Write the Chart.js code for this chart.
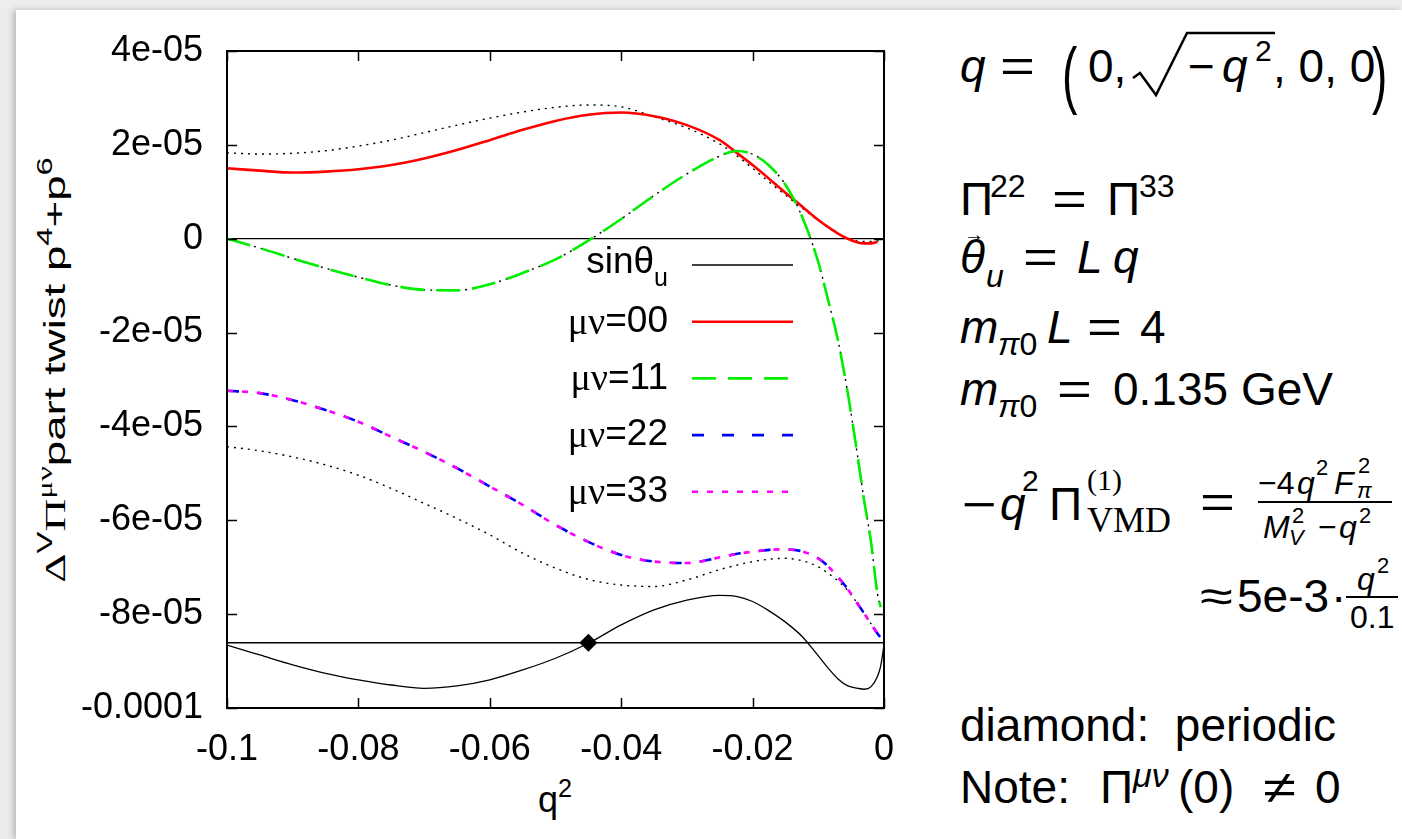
<!DOCTYPE html>
<html>
<head>
<meta charset="utf-8">
<script src="https://cdn.jsdelivr.net/npm/chart.js@4/dist/chart.umd.min.js"></script>
<style>
html,body{margin:0;padding:0;width:1402px;height:839px;overflow:hidden;background:#ededed;}
#panel{position:absolute;left:16px;top:10px;width:1386px;height:829px;background:#fff;box-shadow:-3px 0 6px rgba(0,0,0,0.22);}
#chartBox{position:absolute;left:0;top:0;width:900px;height:839px;z-index:2;}
.a{position:absolute;font-family:"Liberation Sans",Arial,sans-serif;color:#000;white-space:nowrap;line-height:1;font-size:46px;}
.i{font-style:italic;}
.s{font-family:"Liberation Serif","Times New Roman",serif;}
.eq{transform:scaleX(1.3);transform-origin:left center;}
.bar{position:absolute;background:#000;height:2px;}
#ytitle{position:absolute;left:55px;top:370px;transform:translate(-50%,-50%) rotate(-90deg) scaleX(1.52);font-family:"Liberation Sans",Arial,sans-serif;font-size:30px;white-space:nowrap;line-height:1;color:#000;}
#ytitle .g{font-family:"Liberation Serif",serif;}
#ytitle sup{font-size:0.72em;vertical-align:0.6em;line-height:0;}
#xtitle{position:absolute;left:555px;top:782px;transform:translateX(-50%);font-family:"Liberation Sans",Arial,sans-serif;font-size:36px;white-space:nowrap;line-height:1;color:#000;}
#xtitle sup{font-size:0.7em;vertical-align:0.6em;line-height:0;}
</style>
</head>
<body>
<div id="panel"></div>
<div id="chartBox"><canvas id="c"></canvas></div>

<div id="ytitle"><span class="g">Δ</span><sup>V</sup><span class="g">Π</span><sup class="g">μν</sup>part twist p<sup>4</sup>+p<sup>6</sup></div>
<div id="xtitle">q<sup>2</sup></div>

<!-- right-hand annotations -->
<div class="a i" style="left:960px;top:43px">q</div>
<div class="a eq" style="left:1000px;top:43px">=</div>
<div class="a" style="left:1062px;top:43px;transform:translateY(8px) scaleY(1.6)">(</div>
<div class="a" style="left:1088px;top:43px">0,</div>
<svg style="position:absolute;left:0;top:0;width:1402px;height:839px;pointer-events:none;z-index:3" viewBox="0 0 1402 839"><path d="M1133,78 L1140,73 L1156,95 L1187,33 L1275,33" fill="none" stroke="#000" stroke-width="2.5"/></svg>
<div class="a" style="left:1188px;top:43px">−</div>
<div class="a i" style="left:1222px;top:43px">q</div>
<div class="a" style="left:1255px;top:36px;font-size:30px">2</div>
<div class="a" style="left:1273px;top:43px">, 0, 0</div>
<div class="a" style="left:1372px;top:43px;transform:translateY(8px) scaleY(1.6)">)</div>

<div class="a" style="left:960px;top:176px">Π</div>
<div class="a" style="left:990px;top:170px;font-size:32px">22</div>
<div class="a eq" style="left:1052px;top:176px">=</div>
<div class="a" style="left:1107px;top:176px">Π</div>
<div class="a" style="left:1139px;top:170px;font-size:32px">33</div>

<div class="a i" style="left:960px;top:234px">θ</div>
<div class="a" style="left:964px;top:224px;font-size:20px">→</div>
<div class="a i" style="left:986px;top:260px;font-size:32px">u</div>
<div class="a eq" style="left:1023px;top:234px">=</div>
<div class="a i" style="left:1077px;top:234px">L</div>
<div class="a i" style="left:1113px;top:234px">q</div>

<div class="a i" style="left:960px;top:304px">m</div>
<div class="a" style="left:998px;top:328px;font-size:32px"><span class="i">π</span>0</div>
<div class="a i" style="left:1047px;top:304px">L</div>
<div class="a eq" style="left:1087px;top:304px">=</div>
<div class="a" style="left:1140px;top:304px">4</div>

<div class="a i" style="left:960px;top:366px">m</div>
<div class="a" style="left:998px;top:390px;font-size:32px"><span class="i">π</span>0</div>
<div class="a eq" style="left:1057px;top:366px">=</div>
<div class="a" style="left:1113px;top:366px">0.135 GeV</div>

<div class="a eq" style="left:962px;top:481px">−</div>
<div class="a i" style="left:1000px;top:481px">q</div>
<div class="a" style="left:1022px;top:466px;font-size:30px">2</div>
<div class="a" style="left:1049px;top:481px">Π</div>
<div class="a s" style="left:1087px;top:465px;font-size:30px">(1)</div>
<div class="a s" style="left:1087px;top:502px;font-size:36px">VMD</div>
<div class="a eq" style="left:1200px;top:479px">=</div>
<div class="a" style="left:1258px;top:467px;font-size:32px">−4</div>
<div class="a i" style="left:1297px;top:467px;font-size:32px">q</div>
<div class="a" style="left:1316px;top:457px;font-size:22px">2</div>
<div class="a i" style="left:1334px;top:467px;font-size:32px">F</div>
<div class="a" style="left:1358px;top:455px;font-size:22px">2</div>
<div class="a i" style="left:1357px;top:480px;font-size:22px">π</div>
<div class="bar" style="left:1258px;top:501px;width:134px"></div>
<div class="a i" style="left:1263px;top:511px;font-size:32px">M</div>
<div class="a" style="left:1292px;top:505px;font-size:22px">2</div>
<div class="a i" style="left:1289px;top:527px;font-size:22px">V</div>
<div class="a" style="left:1318px;top:511px;font-size:32px">−</div>
<div class="a i" style="left:1339px;top:511px;font-size:32px">q</div>
<div class="a" style="left:1359px;top:505px;font-size:22px">2</div>

<div class="a eq" style="left:1200px;top:573px">≈</div>
<div class="a" style="left:1237px;top:573px">5e-3</div>
<div class="a" style="left:1331px;top:573px">·</div>
<div class="bar" style="left:1346px;top:596px;width:52px"></div>
<div class="a i" style="left:1357px;top:563px;font-size:32px">q</div>
<div class="a" style="left:1377px;top:555px;font-size:22px">2</div>
<div class="a" style="left:1350px;top:601px;font-size:32px">0.1</div>

<div class="a" style="left:960px;top:702px">diamond:&nbsp; periodic</div>
<div class="a" style="left:960px;top:764px">Note:</div>
<div class="a" style="left:1100px;top:764px">Π</div>
<div class="a i" style="left:1133px;top:758px;font-size:34px">μν</div>
<div class="a" style="left:1178px;top:764px">(0)</div>
<div class="a eq" style="left:1263px;top:764px">≠</div>
<div class="a" style="left:1315px;top:764px">0</div>

<script>
// ---------------- data (y values in units of 1e-6) ----------------
const qValues = [-0.1, -0.095, -0.09, -0.085, -0.08, -0.075, -0.07, -0.065, -0.06, -0.055,
  -0.05, -0.045, -0.04, -0.035, -0.03, -0.025, -0.0225, -0.02, -0.0175, -0.015,
  -0.0125, -0.01, -0.0085, -0.007, -0.0055, -0.004, -0.003, -0.002, -0.001, -0.0005, 0];

const sinThetaU = [-86.6, -88.7, -90.8, -92.6, -94.0, -95.1, -95.8, -95.3, -94.0, -91.9,
  -89.4, -86.2, -82.3, -79.1, -77.0, -76.0, -76.2, -77.3, -79.3, -81.7,
  -84.7, -88.9, -91.5, -93.8, -95.3, -95.8, -96.0, -95.5, -93.3, -91.0, -86.6];

const mn00 = [15.0, 14.5, 14.1, 14.3, 14.8, 15.7, 17.1, 18.9, 21.0, 23.2,
  25.1, 26.4, 26.9, 26.1, 24.2, 21.0, 18.4, 15.7, 12.8, 9.8,
  6.9, 4.0, 2.5, 1.1, 0.0, -0.8, -1.0, -1.0, -0.7, null, null];

const mn11 = [0.0, -2.0, -4.2, -6.3, -8.2, -9.9, -10.9, -11.0, -9.7, -7.3,
  -4.4, -0.4, 4.2, 9.2, 13.8, 17.6, 18.7, 18.0, 15.6, 11.5,
  4.8, -5.0, -13.1, -21.7, -33.0, -46.5, -56.0, -64.4, -75.6, -78.5, null];

const mn22 = [-32.4, -32.9, -34.4, -36.5, -39.0, -42.2, -45.4, -48.9, -52.8, -56.7,
  -61.0, -64.6, -67.4, -68.8, -69.1, -67.9, -67.2, -66.7, -66.3, -66.2,
  -66.6, -68.1, -69.8, -72.1, -74.7, -77.8, -79.9, -82.0, -84.1, -85.0, null];

const mn33 = [-32.4, -32.9, -34.4, -36.5, -39.0, -42.2, -45.4, -48.9, -52.8, -56.7,
  -61.0, -64.6, -67.4, -68.8, -69.1, -67.9, -67.2, -66.7, -66.3, -66.2,
  -66.6, -68.1, -69.8, -72.1, -74.7, -77.8, -79.9, -82.0, -84.1, -85.0, null];

const dottedUpper = [18.3, 18.05, 18.2, 18.75, 19.75, 21.0, 22.6, 24.2, 25.7, 27.0,
  28.0, 28.5, 28.1, 26.0, 23.6, 20.2, 17.8, 15.0, 12.1, 9.3,
  6.6, 3.9, 2.4, 1.0, 0.0, -0.5, -0.6, -0.6, -0.5, -0.4, -0.3];

const dottedLower = [-44.3, -45.2, -46.5, -48.2, -50.4, -53.2, -56.4, -59.6, -63.1, -67.0,
  -70.2, -72.6, -73.8, -74.1, -72.7, -70.5, -69.6, -68.8, -68.3, -68.1,
  -68.6, -69.9, -71.3, -72.9, -75.0, -77.8, -79.9, -82.0, -84.1, -85.0, null];

const dotted11 = [0.0, -2.0, -4.2, -6.3, -8.2, -9.9, -10.9, -11.0, -9.7, -7.3,
  -4.4, -0.4, 4.2, 9.2, 13.8, 17.6, 18.7, 18.0, 15.6, 11.5,
  4.8, -5.0, -13.1, -21.7, -33.0, -46.5, -56.0, -64.4, -75.6, -78.5, null];

const sinZeroQ = [-0.1, 0];
const sinZeroLevel = [-86.1, -86.1];
const diamondQ = [-0.045];
const diamondV = [-86.1];

const xTickValues = [-0.1, -0.08, -0.06, -0.04, -0.02, 0];
const xTickLabels = ['-0.1', '-0.08', '-0.06', '-0.04', '-0.02', '0'];
const yTickValues = [-100, -80, -60, -40, -20, 0, 20, 40];
const yTickLabels = ['-0.0001', '-8e-05', '-6e-05', '-4e-05', '-2e-05', '0', '2e-05', '4e-05'];

// ---------------- helpers ----------------
function pts(xs, ys) {
  const out = [];
  for (let i = 0; i < xs.length; i++) if (ys[i] !== null) out.push({x: xs[i], y: ys[i]});
  return out;
}

const SANS = '"Liberation Sans", Arial, sans-serif';
const SERIF = '"Liberation Serif", "Times New Roman", serif';

const framePlugin = {
  id: 'gpFrame',
  beforeDatasetsDraw(chart) {
    const {ctx, chartArea: a, scales} = chart;
    ctx.save();
    ctx.strokeStyle = '#000';
    ctx.lineWidth = 1.3;
    const y0 = scales.y.getPixelForValue(0);
    ctx.beginPath(); ctx.moveTo(a.left, y0); ctx.lineTo(a.right, y0); ctx.stroke();
    ctx.restore();
  },
  afterDatasetsDraw(chart) {
    const {ctx, chartArea: a, scales} = chart;
    ctx.save();
    ctx.strokeStyle = '#000';
    ctx.lineWidth = 1.5;
    const L = 10;
    ctx.beginPath();
    yTickValues.forEach(v => {
      const y = Math.round(scales.y.getPixelForValue(v)) + 0.5;
      ctx.moveTo(a.left, y); ctx.lineTo(a.left + L, y);
      ctx.moveTo(a.right, y); ctx.lineTo(a.right - L, y);
    });
    xTickValues.forEach(v => {
      const x = Math.round(scales.x.getPixelForValue(v)) + 0.5;
      ctx.moveTo(x, a.bottom); ctx.lineTo(x, a.bottom - L);
      ctx.moveTo(x, a.top); ctx.lineTo(x, a.top + L);
    });
    ctx.stroke();
    ctx.lineWidth = 2;
    ctx.strokeRect(a.left, a.top, a.right - a.left, a.bottom - a.top);
    ctx.restore();

    // key (gnuplot style: text right-aligned, sample line to the right)
    const items = chart.data.datasets.filter(d => d.keyRow !== undefined).sort((p, q) => p.keyRow - q.keyRow);
    const textRight = a.left + 441, s0 = a.left + 465, s1 = a.left + 566;
    items.forEach(d => {
      const y = a.top + 214 + d.keyRow * 56.7;
      ctx.save();
      ctx.fillStyle = '#000';
      ctx.textBaseline = 'middle';
      ctx.textAlign = 'left';
      const lab = d.label;
      const big = '37px ' + SANS, sub = '25px ' + SANS, greek = '38px ' + SERIF;
      if (lab.indexOf('_') >= 0) {
        const [main, s] = lab.split('_');
        ctx.font = sub; const ws = ctx.measureText(s).width;
        ctx.font = big; const wm = ctx.measureText(main).width;
        ctx.fillText(main, textRight - ws - wm, y - 2);
        ctx.font = sub; ctx.fillText(s, textRight - ws, y + 14);
      } else {
        const g = lab.slice(0, 2), r = lab.slice(2);
        ctx.font = big; const wr = ctx.measureText(r).width;
        ctx.font = greek; const wg = ctx.measureText(g).width;
        ctx.fillText(g, textRight - wr - wg, y + 2);
        ctx.font = big; ctx.fillText(r, textRight - wr, y);
      }
      ctx.strokeStyle = d.borderColor;
      ctx.lineWidth = d.borderWidth;
      ctx.setLineDash(d.borderDash || []);
      ctx.beginPath(); ctx.moveTo(s0, y); ctx.lineTo(s1, y); ctx.stroke();
      ctx.restore();
    });
  }
};

function line(label, data, color, width, dash, order, keyRow) {
  const ds = {
    label, data, borderColor: color, backgroundColor: color, borderWidth: width,
    borderDash: dash, pointRadius: 0, pointHoverRadius: 0, fill: false,
    cubicInterpolationMode: 'monotone', order, borderCapStyle: 'butt'
  };
  if (keyRow !== undefined) ds.keyRow = keyRow;
  return ds;
}

const datasets = [
  {label: 'periodic', data: pts(diamondQ, diamondV), showLine: false, pointStyle: 'rectRot',
   pointRadius: 9, pointHoverRadius: 9, backgroundColor: '#000', borderColor: '#000', borderWidth: 0, order: 0},
  line('μν=33', pts(qValues, mn33), '#ff00ff', 2.6, [6, 9], 1, 4),
  line('μν=22', pts(qValues, mn22), '#0000ff', 2.6, [12, 18], 2, 3),
  line('μν=11', pts(qValues, mn11), '#00ee00', 2.6, [24, 12], 3, 2),
  line('μν=11 dotted', pts(qValues, dotted11), '#000', 1.4, [2, 5], 4),
  line('μν=00', pts(qValues, mn00), '#ff0000', 2.6, [], 5, 1),
  line('upper dotted', pts(qValues, dottedUpper), '#000', 1.4, [2, 5], 6),
  line('lower dotted', pts(qValues, dottedLower), '#000', 1.4, [2, 5], 7),
  line('sinθ_u', pts(qValues, sinThetaU), '#000', 1.3, [], 8, 0),
  line('sinθ_u = 0', pts(sinZeroQ, sinZeroLevel), '#000', 1.3, [], 9)
];

new Chart(document.getElementById('c'), {
  type: 'line',
  data: {datasets},
  options: {
    responsive: true, maintainAspectRatio: false, animation: false,
    layout: {padding: {top: 51, right: 16, left: 0, bottom: 0}},
    plugins: {legend: {display: false}, tooltip: {enabled: false}},
    scales: {
      x: {
        type: 'linear', min: -0.1, max: 0,
        afterFit: s => { s.height = 131; s.paddingLeft = 0; s.paddingRight = 0; },
        afterBuildTicks: s => { s.ticks = xTickValues.map(v => ({value: v})); },
        grid: {display: false, drawTicks: false}, border: {display: false},
        ticks: {color: '#000', padding: 20, maxRotation: 0, autoSkip: false,
          font: {family: SANS, size: 36},
          callback: (v, i) => xTickLabels[i]}
      },
      y: {
        type: 'linear', min: -100, max: 40,
        afterFit: s => { s.width = 227; s.paddingTop = 0; s.paddingBottom = 0; },
        afterBuildTicks: s => { s.ticks = yTickValues.map(v => ({value: v})); },
        grid: {display: false, drawTicks: false}, border: {display: false},
        ticks: {color: '#000', padding: 24, autoSkip: false,
          font: {family: SANS, size: 36},
          callback: (v, i) => yTickLabels[i]}
      }
    }
  },
  plugins: [framePlugin]
});
</script>
</body>
</html>
